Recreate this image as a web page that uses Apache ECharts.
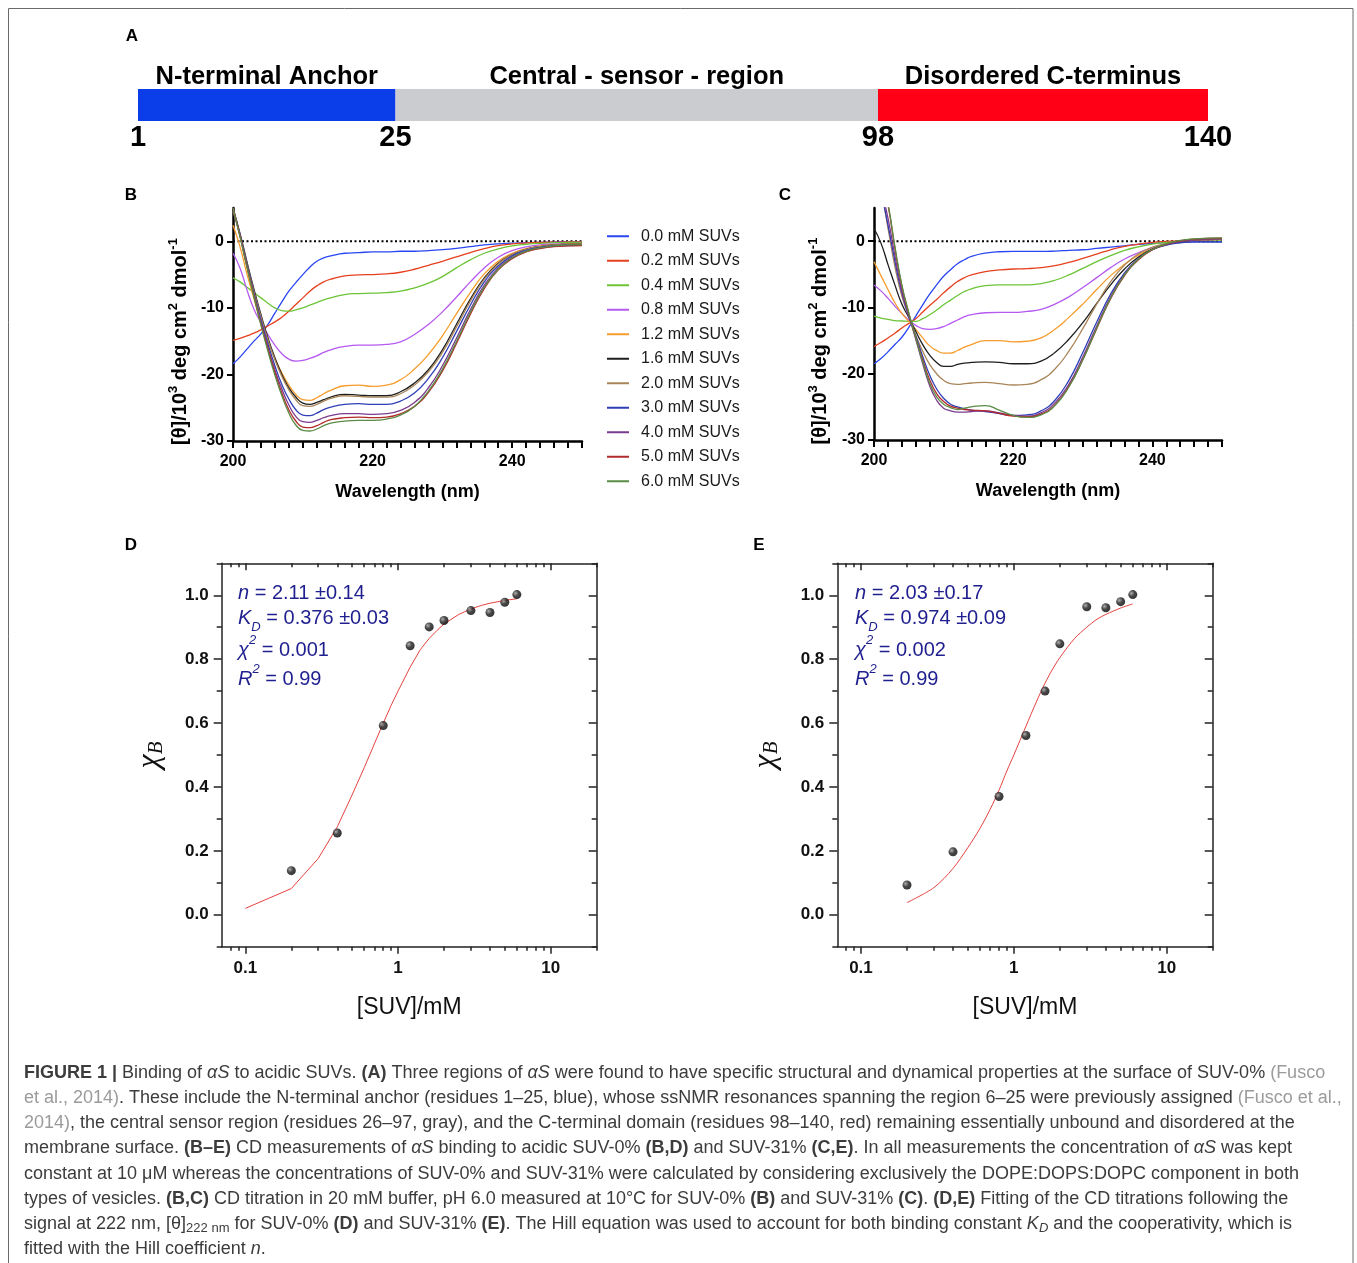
<!DOCTYPE html>
<html><head><meta charset="utf-8">
<script src="https://cdn.jsdelivr.net/npm/echarts@6/dist/echarts.min.js"></script>
<style>html,body{margin:0;padding:0;background:#fff}#c{width:1357px;height:1263px}</style>
</head><body><div id="c"></div>
<script>
const FONT = '"Liberation Sans", Arial, Helvetica, sans-serif';
const SERIF = '"Liberation Serif", "DejaVu Serif", "Times New Roman", serif';

// ---------- Panel A ----------
const regionNames = ['N-terminal Anchor', 'Central - sensor - region', 'Disordered C-terminus'];
const regionStart = [1, 25, 98];
const regionEnd = [25, 98, 140];
const regionColors = ['#0b3de9', '#cbccd0', '#ff0016'];

// ---------- Panels B, C ----------
const wavelength = [200,201,202,203,204,205,206,207,208,209,210,211,212,213,214,216,218,220,222,224,226,228,230,232,234,236,238,240,242,244,246,248,250];
const wlTickLabels = [200, 220, 240];
const cdYTicks = [-30, -20, -10, 0];
const concLabels = ['0.0 mM SUVs','0.2 mM SUVs','0.4 mM SUVs','0.8 mM SUVs','1.2 mM SUVs','1.6 mM SUVs','2.0 mM SUVs','3.0 mM SUVs','4.0 mM SUVs','5.0 mM SUVs','6.0 mM SUVs'];
const lineColors = ['#2946f2','#e5411f','#6cc437','#b55af0','#f59c2c','#1e1e1e','#a9865a','#2f3fb5','#7b3b8f','#b32a2a','#5a8c45'];

// Panel B (SUV-0%), [θ]/10^3
const bAt00 = [-18.4,-17.4,-16.2,-15.0,-13.9,-12.5,-10.8,-9.1,-7.5,-6.2,-5.0,-3.9,-3.0,-2.5,-2.2,-1.8,-1.7,-1.6,-1.6,-1.5,-1.5,-1.4,-1.25,-1.05,-0.8,-0.55,-0.38,-0.28,-0.2,-0.15,-0.12,-0.1,-0.1];
const bAt02 = [-14.9,-14.6,-14.2,-13.8,-13.3,-12.7,-12.1,-11.4,-10.5,-9.5,-8.5,-7.5,-6.7,-6.1,-5.7,-5.2,-5.05,-5.0,-4.9,-4.65,-4.2,-3.6,-3.0,-2.35,-1.7,-1.1,-0.65,-0.4,-0.25,-0.17,-0.13,-0.1,-0.1];
const bAt04 = [-5.5,-6.1,-6.9,-7.7,-8.5,-9.3,-10.0,-10.4,-10.5,-10.3,-10.0,-9.6,-9.2,-8.8,-8.5,-8.0,-7.85,-7.8,-7.7,-7.5,-7.0,-6.3,-5.3,-4.0,-2.8,-1.8,-1.15,-0.7,-0.45,-0.3,-0.22,-0.18,-0.15];
const bAt08 = [-1.8,-4.0,-7.3,-10.2,-12.2,-14.0,-15.6,-16.9,-17.7,-18.0,-17.9,-17.6,-17.2,-16.7,-16.3,-15.8,-15.6,-15.6,-15.5,-15.1,-14.0,-12.5,-10.6,-8.4,-6.1,-4.0,-2.4,-1.4,-0.85,-0.55,-0.42,-0.35,-0.3];
const bAt12 = [2.4,-0.8,-4.9,-8.6,-12.2,-15.0,-17.6,-19.8,-21.6,-23.0,-23.8,-23.9,-23.5,-22.9,-22.4,-21.7,-21.6,-21.8,-21.6,-20.8,-19.2,-17.0,-14.2,-10.9,-7.7,-4.9,-3.0,-1.8,-1.1,-0.7,-0.5,-0.4,-0.35];
const bAt16 = [4.9,1.2,-3.1,-7.2,-11.0,-14.5,-17.5,-20.0,-22.0,-23.4,-24.3,-24.5,-24.2,-23.8,-23.4,-23.0,-23.1,-23.2,-23.2,-22.6,-21.3,-19.3,-16.3,-12.5,-8.7,-5.5,-3.3,-2.0,-1.2,-0.8,-0.55,-0.45,-0.4];
const bAt20 = [4.5,0.9,-3.4,-7.5,-11.3,-14.8,-17.8,-20.3,-22.3,-23.8,-24.7,-24.8,-24.5,-24.0,-23.6,-23.2,-23.3,-23.4,-23.4,-22.9,-21.6,-19.6,-16.7,-12.9,-9.0,-5.7,-3.4,-2.0,-1.2,-0.8,-0.55,-0.45,-0.4];
const bAt30 = [5.0,1.0,-3.5,-7.8,-11.8,-15.4,-18.7,-21.5,-23.7,-25.3,-26.1,-26.2,-25.8,-25.3,-24.9,-24.5,-24.4,-24.5,-24.5,-24.0,-22.8,-20.6,-17.5,-13.6,-9.6,-6.1,-3.7,-2.2,-1.35,-0.9,-0.65,-0.55,-0.5];
const bAt40 = [5.0,0.9,-3.7,-8.0,-12.2,-15.9,-19.3,-22.2,-24.6,-26.3,-27.1,-27.2,-26.9,-26.5,-26.2,-25.9,-25.9,-26.0,-25.9,-25.4,-24.2,-22.0,-18.7,-14.6,-10.3,-6.6,-4.0,-2.4,-1.5,-1.0,-0.75,-0.65,-0.6];
const bAt50 = [5.0,0.8,-3.8,-8.2,-12.4,-16.2,-19.7,-22.8,-25.3,-27.0,-27.9,-28.0,-27.7,-27.2,-26.8,-26.5,-26.4,-26.5,-26.4,-25.9,-24.8,-22.7,-19.5,-15.4,-11.0,-7.1,-4.3,-2.6,-1.6,-1.1,-0.8,-0.7,-0.65];
const bAt60 = [5.0,0.7,-3.9,-8.3,-12.6,-16.5,-20.1,-23.2,-25.8,-27.6,-28.4,-28.5,-28.2,-27.7,-27.3,-27.0,-26.9,-26.9,-26.7,-26.1,-24.8,-22.5,-19.2,-15.1,-10.7,-6.9,-4.2,-2.5,-1.5,-1.0,-0.7,-0.55,-0.5];

// Panel C (SUV-31%)
const cAt00 = [-18.5,-17.7,-16.7,-15.6,-14.5,-13.0,-11.3,-9.6,-8.0,-6.6,-5.3,-4.3,-3.4,-2.8,-2.3,-1.8,-1.6,-1.55,-1.55,-1.55,-1.5,-1.4,-1.3,-1.1,-0.9,-0.7,-0.5,-0.35,-0.22,-0.15,-0.12,-0.1,-0.1];
const cAt02 = [-15.9,-15.3,-14.6,-13.9,-13.1,-12.4,-11.7,-10.7,-9.7,-8.8,-7.8,-6.9,-6.1,-5.5,-5.1,-4.6,-4.35,-4.2,-4.15,-4.0,-3.7,-3.2,-2.6,-1.95,-1.3,-0.8,-0.45,-0.2,-0.05,0.05,0.12,0.2,0.25];
const cAt04 = [-11.3,-11.6,-11.8,-12.0,-12.05,-12.1,-12.1,-11.7,-11.1,-10.4,-9.6,-8.9,-8.2,-7.6,-7.2,-6.7,-6.6,-6.6,-6.6,-6.4,-5.9,-5.1,-4.1,-3.1,-2.2,-1.4,-0.85,-0.45,-0.2,0.0,0.1,0.15,0.2];
const cAt08 = [-6.6,-7.5,-8.6,-9.8,-10.9,-11.9,-12.7,-13.2,-13.3,-13.2,-12.9,-12.4,-11.9,-11.4,-11.1,-10.8,-10.75,-10.75,-10.6,-10.3,-9.5,-8.4,-7.0,-5.5,-4.0,-2.7,-1.75,-1.0,-0.5,-0.15,0.05,0.2,0.3];
const cAt12 = [-3.1,-5.2,-7.3,-9.3,-10.9,-12.1,-13.3,-14.6,-15.8,-16.5,-16.9,-16.9,-16.5,-16.0,-15.6,-15.0,-15.0,-15.2,-15.1,-14.6,-13.3,-11.5,-9.5,-7.3,-5.2,-3.5,-2.1,-1.2,-0.55,-0.15,0.1,0.25,0.3];
const cAt16 = [1.9,-0.3,-3.5,-6.6,-9.5,-11.5,-13.6,-15.6,-17.2,-18.3,-18.9,-18.9,-18.6,-18.4,-18.3,-18.2,-18.3,-18.5,-18.5,-18.1,-16.8,-14.8,-12.3,-9.4,-6.6,-4.2,-2.4,-1.2,-0.5,-0.1,0.15,0.25,0.3];
const cAt20 = [10.0,7.5,2.0,-3.8,-8.3,-11.3,-14.2,-16.6,-18.6,-20.0,-21.0,-21.5,-21.6,-21.5,-21.4,-21.3,-21.5,-21.7,-21.6,-20.9,-19.3,-16.6,-13.2,-9.5,-6.1,-3.6,-1.9,-0.9,-0.35,0.0,0.2,0.3,0.3];
const cAt30 = [12,7.5,2.5,-3.0,-7.8,-11.3,-14.3,-17.4,-20.2,-22.3,-23.7,-24.6,-25.0,-25.3,-25.5,-25.7,-26.0,-26.3,-26.2,-25.6,-24.0,-21.0,-16.8,-12.2,-8.0,-4.8,-2.6,-1.3,-0.6,-0.25,-0.12,-0.1,-0.1];
const cAt40 = [12,8,3.5,-2.2,-7.5,-11.2,-14.8,-18.5,-21.8,-24.0,-25.2,-25.6,-25.8,-25.8,-25.7,-25.6,-25.9,-26.3,-26.4,-25.9,-24.4,-21.6,-17.5,-12.8,-8.4,-5.0,-2.7,-1.3,-0.5,-0.05,0.2,0.3,0.35];
const cAt50 = [14,10,5.5,-1.0,-6.8,-10.9,-14.6,-17.9,-20.9,-23.0,-24.2,-24.9,-25.2,-25.4,-25.5,-25.6,-26.0,-26.4,-26.5,-26.1,-24.7,-21.9,-17.9,-13.2,-8.7,-5.2,-2.8,-1.3,-0.45,0.05,0.3,0.4,0.45];
const cAt60 = [14,10,5.7,-0.8,-6.6,-10.8,-14.6,-18.2,-21.4,-23.5,-24.6,-25.1,-25.4,-25.2,-25.0,-24.8,-25.5,-26.3,-26.6,-26.2,-24.8,-22.0,-17.9,-13.1,-8.6,-5.1,-2.7,-1.25,-0.4,0.1,0.35,0.45,0.5];

const cdB = [bAt00,bAt02,bAt04,bAt08,bAt12,bAt16,bAt20,bAt30,bAt40,bAt50,bAt60];
const cdC = [cAt00,cAt02,cAt04,cAt08,cAt12,cAt16,cAt20,cAt30,cAt40,cAt50,cAt60];

// ---------- Panels D, E ----------
const logMajor = [0.1, 1, 10];
const logMinor = [0.08,0.09,0.2,0.3,0.4,0.5,0.6,0.7,0.8,0.9,2,3,4,5,6,7,8,9,20];
const chiMajor = [0, 0.2, 0.4, 0.6, 0.8, 1.0];
const chiMinor = [-0.1, 0.1, 0.3, 0.5, 0.7, 0.9, 1.1];

const dConc = [0.2,0.4,0.8,1.2,1.6,2.0,3.0,4.0,5.0,6.0];
const dChiB = [0.138,0.256,0.592,0.842,0.901,0.921,0.952,0.946,0.978,1.002];
const dFitConc = [0.1,0.2,0.3,0.4,0.5,0.6,0.7,0.8,0.9,1.0,1.2,1.4,1.6,1.8,2.0,2.5,3.0,3.5,4.0,5.0,6.0];
const dFitChiB = [0.02,0.082,0.176,0.275,0.375,0.46,0.535,0.60,0.655,0.70,0.775,0.83,0.865,0.89,0.91,0.94,0.957,0.968,0.975,0.984,0.989];

const eConc = [0.2,0.4,0.8,1.2,1.6,2.0,3.0,4.0,5.0,6.0];
const eChiB = [0.093,0.197,0.370,0.561,0.700,0.848,0.964,0.961,0.980,1.002];
const eFitConc = [0.2,0.3,0.4,0.5,0.6,0.7,0.8,0.9,1.0,1.2,1.4,1.6,1.8,2.0,2.5,3.0,3.5,4.0,5.0,6.0];
const eFitChiB = [0.038,0.085,0.145,0.21,0.27,0.33,0.39,0.45,0.50,0.59,0.665,0.725,0.77,0.805,0.865,0.90,0.925,0.94,0.96,0.973];

const dFitText = ['2.11 ±0.14', '0.376 ±0.03', '0.001', '0.99'];
const eFitText = ['2.03 ±0.17', '0.974 ±0.09', '0.002', '0.99'];

// ---------- build ----------
const zip = (a, b) => a.map((v, i) => [v, b[i]]);

const grids = [
  {left:138, top:89, width:257.5, height:32},
  {left:395.5, top:89, width:482.5, height:32},
  {left:878, top:89, width:330, height:32},
  {left:233, top:208, width:349, height:233},
  {left:874, top:208, width:348, height:232},
  {left:221.7, top:563.3, width:375, height:383.4},
  {left:837.3, top:563.3, width:375.4, height:383.4}
].map(g => Object.assign({containLabel:false, outerBoundsMode:'none'}, g));

const xAxes = [], yAxes = [], series = [];

// A
regionNames.forEach((nm, i) => {
  xAxes.push({gridIndex:i, type:'value', min:regionStart[i], max:regionEnd[i],
    axisLine:{show:false, onZero:false}, axisTick:{show:false}, splitLine:{show:false},
    axisLabel:{customValues: i === 0 ? [regionStart[i], regionEnd[i]] : [regionEnd[i]], margin:2,
      fontSize:29, fontWeight:'bold', fontFamily:FONT, color:'#000'}});
  yAxes.push({gridIndex:i, type:'value', min:0, max:1, show:false});
  series.push({type:'custom', xAxisIndex:i, yAxisIndex:i, silent:true, clip:false,
    data:[[regionStart[i], regionEnd[i]]],
    renderItem: (params, api) => {
      const p0 = api.coord([api.value(0), 1]);
      const p1 = api.coord([api.value(1), 0]);
      return {type:'group', children:[
        {type:'rect', shape:{x:p0[0], y:p0[1], width:p1[0]-p0[0], height:p1[1]-p0[1]}, style:{fill:regionColors[i]}},
        {type:'text', x:(p0[0]+p1[0])/2, y:p0[1]-12.5, style:{text:nm, align:'center', verticalAlign:'middle',
          textAlign:'center', textVerticalAlign:'middle', font:'bold 25.5px ' + FONT, fill:'#000'}}
      ]};
    }});
});

// B, C
const axisBlack = {color:'#000', width:2.5};
function cdPanel(gi, curves, nameGap) {
  xAxes.push({gridIndex:gi, type:'value', min:200, max:250, interval:2,
    axisLine:{onZero:false, lineStyle:axisBlack},
    axisTick:{length:7, lineStyle:{color:'#000', width:2}},
    axisLabel:{customValues:wlTickLabels, margin:13, fontSize:16, fontWeight:'bold', fontFamily:FONT, color:'#000'},
    splitLine:{show:false},
    name:'Wavelength (nm)', nameLocation:'middle', nameGap:42, nameMoveOverlap:false,
    nameTextStyle:{fontSize:18, fontWeight:'bold', fontFamily:FONT, color:'#000'}});
  yAxes.push({gridIndex:gi, type:'value', min:-30, max:5,
    axisLine:{onZero:false, lineStyle:axisBlack},
    axisTick:{customValues:cdYTicks, length:6, lineStyle:{color:'#000', width:2}},
    axisLabel:{customValues:cdYTicks, margin:9, fontSize:16, fontWeight:'bold', fontFamily:FONT, color:'#000'},
    splitLine:{show:false},
    name:'{a|[θ]/10}{s|3}{a| deg cm}{s|2}{a| dmol}{s|-1}', nameLocation:'middle', nameGap:nameGap, nameMoveOverlap:false,
    nameTextStyle:{padding:[0,34,0,0], rich:{
      a:{fontSize:20, fontWeight:'bold', fontFamily:FONT, color:'#000', lineHeight:26},
      s:{fontSize:13, fontWeight:'bold', fontFamily:FONT, color:'#000', lineHeight:13, verticalAlign:'top'}}}});
  const xi = xAxes.length - 1, yi = yAxes.length - 1;
  series.push({type:'line', name:'zero', xAxisIndex:xi, yAxisIndex:yi, data:[[200,0],[250,0]], showSymbol:false, silent:true,
    lineStyle:{color:'#000', width:2, type:[2,2.5]}, z:1});
  curves.forEach((arr, k) => {
    series.push({type:'line', name:concLabels[k], xAxisIndex:xi, yAxisIndex:yi, data:zip(wavelength, arr),
      showSymbol:false, smooth:0.5, silent:true, color:lineColors[k],
      lineStyle:{color:lineColors[k], width:1.3}, z:2});
  });
}
cdPanel(3, cdB, 40);
cdPanel(4, cdC, 41);

// D, E
const frame = {color:'#222', width:1.5};
const logFmt = v => (v >= 1 ? String(Math.round(v)) : String(+(+v).toFixed(2)));
function fitPanel(gi, conc, chi, fitC, fitY, smooth) {
  const xb = {gridIndex:gi, type:'log', min:0.07, max:20, splitLine:{show:false}};
  xAxes.push(Object.assign({}, xb, {position:'bottom', axisLine:{onZero:false, lineStyle:frame},
    axisTick:{customValues:logMajor, length:7, lineStyle:frame},
    axisLabel:{customValues:logMajor, formatter:logFmt, margin:13, fontSize:17, fontWeight:'bold', fontFamily:FONT, color:'#111'},
    name:'[SUV]/mM', nameLocation:'middle', nameGap:49, nameMoveOverlap:false,
    nameTextStyle:{fontSize:23, fontFamily:FONT, color:'#111'}}));
  const xi = xAxes.length - 1;
  xAxes.push(Object.assign({}, xb, {position:'bottom', axisLine:{show:false, onZero:false},
    axisTick:{customValues:logMinor, length:4, lineStyle:frame}, axisLabel:{show:false}}));
  xAxes.push(Object.assign({}, xb, {position:'top', axisLine:{onZero:false, lineStyle:frame},
    axisTick:{inside:true, customValues:logMajor, length:7, lineStyle:frame}, axisLabel:{show:false}}));
  xAxes.push(Object.assign({}, xb, {position:'top', axisLine:{show:false, onZero:false},
    axisTick:{inside:true, customValues:logMinor, length:4, lineStyle:frame}, axisLabel:{show:false}}));

  const yb = {gridIndex:gi, type:'value', min:-0.1, max:1.1, splitLine:{show:false}};
  yAxes.push(Object.assign({}, yb, {position:'left', axisLine:{onZero:false, lineStyle:frame},
    axisTick:{customValues:chiMajor, length:8, lineStyle:frame},
    axisLabel:{customValues:chiMajor, formatter:v => (+v).toFixed(1), margin:13, fontSize:17, fontWeight:'bold', fontFamily:FONT, color:'#111'},
    name:'{c|χ}{b|B}', nameLocation:'middle', nameGap:55, nameMoveOverlap:false,
    nameTextStyle:{rich:{
      c:{fontSize:32, fontStyle:'italic', fontFamily:SERIF, color:'#111', lineHeight:34},
      b:{fontSize:21, fontStyle:'italic', fontFamily:SERIF, color:'#111', lineHeight:20, verticalAlign:'bottom'}}}}));
  const yi = yAxes.length - 1;
  yAxes.push(Object.assign({}, yb, {position:'left', axisLine:{show:false, onZero:false},
    axisTick:{customValues:chiMinor, length:5, lineStyle:frame}, axisLabel:{show:false}}));
  yAxes.push(Object.assign({}, yb, {position:'right', axisLine:{onZero:false, lineStyle:frame},
    axisTick:{inside:true, customValues:chiMajor, length:8, lineStyle:frame}, axisLabel:{show:false}}));
  yAxes.push(Object.assign({}, yb, {position:'right', axisLine:{show:false, onZero:false},
    axisTick:{inside:true, customValues:chiMinor, length:5, lineStyle:frame}, axisLabel:{show:false}}));

  series.push({type:'line', name:'fit', xAxisIndex:xi, yAxisIndex:yi, data:zip(fitC, fitY), showSymbol:false, silent:true,
    smooth:smooth ? 0.3 : false, lineStyle:{color:'#e5433f', width:1}, z:2});
  series.push({type:'scatter', name:'data', xAxisIndex:xi, yAxisIndex:yi, data:zip(conc, chi), symbolSize:9, silent:true,
    itemStyle:{color:{type:'radial', x:0.35, y:0.35, r:0.75, colorStops:[{offset:0, color:'#9a9a9a'},{offset:0.45, color:'#1a1a1a'},{offset:1, color:'#000'}]}}, z:3});
}
fitPanel(5, dConc, dChiB, dFitConc, dFitChiB, false);
fitPanel(6, eConc, eChiB, eFitConc, eFitChiB, true);

// ---------- graphic texts ----------
const NAVY = '#1f1f8f';
const annRich = {
  t:{fontSize:20, fontFamily:FONT, fill:NAVY, lineHeight:32},
  i:{fontSize:20, fontFamily:FONT, fontStyle:'italic', fill:NAVY, lineHeight:32},
  sub:{fontSize:13, fontFamily:FONT, fontStyle:'italic', fill:NAVY, lineHeight:13, verticalAlign:'bottom'},
  sup:{fontSize:13, fontFamily:FONT, fontStyle:'italic', fill:NAVY, lineHeight:13, verticalAlign:'top'}
};
function txt(x, y, text, rich, extra) {
  return {type:'text', x:x, y:y, silent:true,
    style:Object.assign({text:text, rich:rich, align:'left', verticalAlign:'middle', textAlign:'left', textVerticalAlign:'middle'}, extra || {})};
}
function annotations(x, vals) {
  return [
    txt(x, 593, '{i|n}{t| = ' + vals[0] + '}', annRich),
    txt(x, 618, '{i|K}{sub|D}{t| = ' + vals[1] + '}', annRich),
    txt(x, 650, '{i|χ}{sup|2}{t| = ' + vals[2] + '}', annRich),
    txt(x, 679, '{i|R}{sup|2}{t| = ' + vals[3] + '}', annRich)
  ];
}
const letterStyle = {font:'bold 17px ' + FONT, fill:'#000', align:'center', textAlign:'center'};
const letters = [['A',132,36],['B',131,195],['C',785,195],['D',131,545],['E',759,545]]
  .map(l => txt(l[1], l[2], l[0], null, letterStyle));

const CAP = '#3c3c3c', CAPG = '#9b9b9b';
const capRich = {
  t:{fontSize:18, fontFamily:FONT, fill:CAP, lineHeight:21},
  b:{fontSize:18, fontFamily:FONT, fontWeight:'bold', fill:CAP, lineHeight:21},
  g:{fontSize:18, fontFamily:FONT, fill:CAPG, lineHeight:21},
  i:{fontSize:18, fontFamily:FONT, fontStyle:'italic', fill:CAP, lineHeight:21},
  sub:{fontSize:13, fontFamily:FONT, fill:CAP, lineHeight:13, verticalAlign:'bottom'},
  isub:{fontSize:13, fontFamily:FONT, fontStyle:'italic', fill:CAP, lineHeight:13, verticalAlign:'bottom'}
};
const captionLines = [
  '{b|FIGURE 1 |}{t| Binding of }{i|αS}{t| to acidic SUVs. }{b|(A)}{t| Three regions of }{i|αS}{t| were found to have specific structural and dynamical properties at the surface of SUV-0% }{g|(Fusco}',
  '{g|et al., 2014)}{t|. These include the N-terminal anchor (residues 1–25, blue), whose ssNMR resonances spanning the region 6–25 were previously assigned }{g|(Fusco et al.,}',
  '{g|2014)}{t|, the central sensor region (residues 26–97, gray), and the C-terminal domain (residues 98–140, red) remaining essentially unbound and disordered at the}',
  '{t|membrane surface. }{b|(B–E)}{t| CD measurements of }{i|αS}{t| binding to acidic SUV-0% }{b|(B,D)}{t| and SUV-31% }{b|(C,E)}{t|. In all measurements the concentration of }{i|αS}{t| was kept}',
  '{t|constant at 10 μM whereas the concentrations of SUV-0% and SUV-31% were calculated by considering exclusively the DOPE:DOPS:DOPC component in both}',
  '{t|types of vesicles. }{b|(B,C)}{t| CD titration in 20 mM buffer, pH 6.0 measured at 10°C for SUV-0% }{b|(B)}{t| and SUV-31% }{b|(C)}{t|. }{b|(D,E)}{t| Fitting of the CD titrations following the}',
  '{t|signal at 222 nm, [θ]}{sub|222 nm}{t| for SUV-0% }{b|(D)}{t| and SUV-31% }{b|(E)}{t|. The Hill equation was used to account for both binding constant }{i|K}{isub|D}{t| and the cooperativity, which is}',
  '{t|fitted with the Hill coefficient }{i|n}{t|.}'
];
const captionY = [1073, 1098, 1123, 1148, 1174, 1199, 1224, 1249];
const caption = captionLines.map((s, k) => txt(24, captionY[k], s, capRich));

const graphics = [
  {type:'rect', silent:true, shape:{x:8.5, y:8.5, width:1344.5, height:1300}, style:{fill:'none', stroke:'#6a6a6a', lineWidth:1}},
  ...letters, ...annotations(238, dFitText), ...annotations(855, eFitText), ...caption
];

const option = {
  animation:false,
  backgroundColor:'#fff',
  grid:grids,
  xAxis:xAxes,
  yAxis:yAxes,
  legend:{data:concLabels, orient:'vertical', left:607, top:224, padding:0, icon:'rect', itemWidth:22, itemHeight:2, itemGap:0,
    selectedMode:false, textStyle:{fontSize:16, fontFamily:FONT, color:'#1a1a1a', lineHeight:24.5, padding:[0,0,0,7]}},
  series:series,
  graphic:{elements:graphics}
};
const chart = echarts.init(document.getElementById('c'), null, {renderer:'canvas', width:1357, height:1263});
chart.setOption(option);
</script>
</body></html>
